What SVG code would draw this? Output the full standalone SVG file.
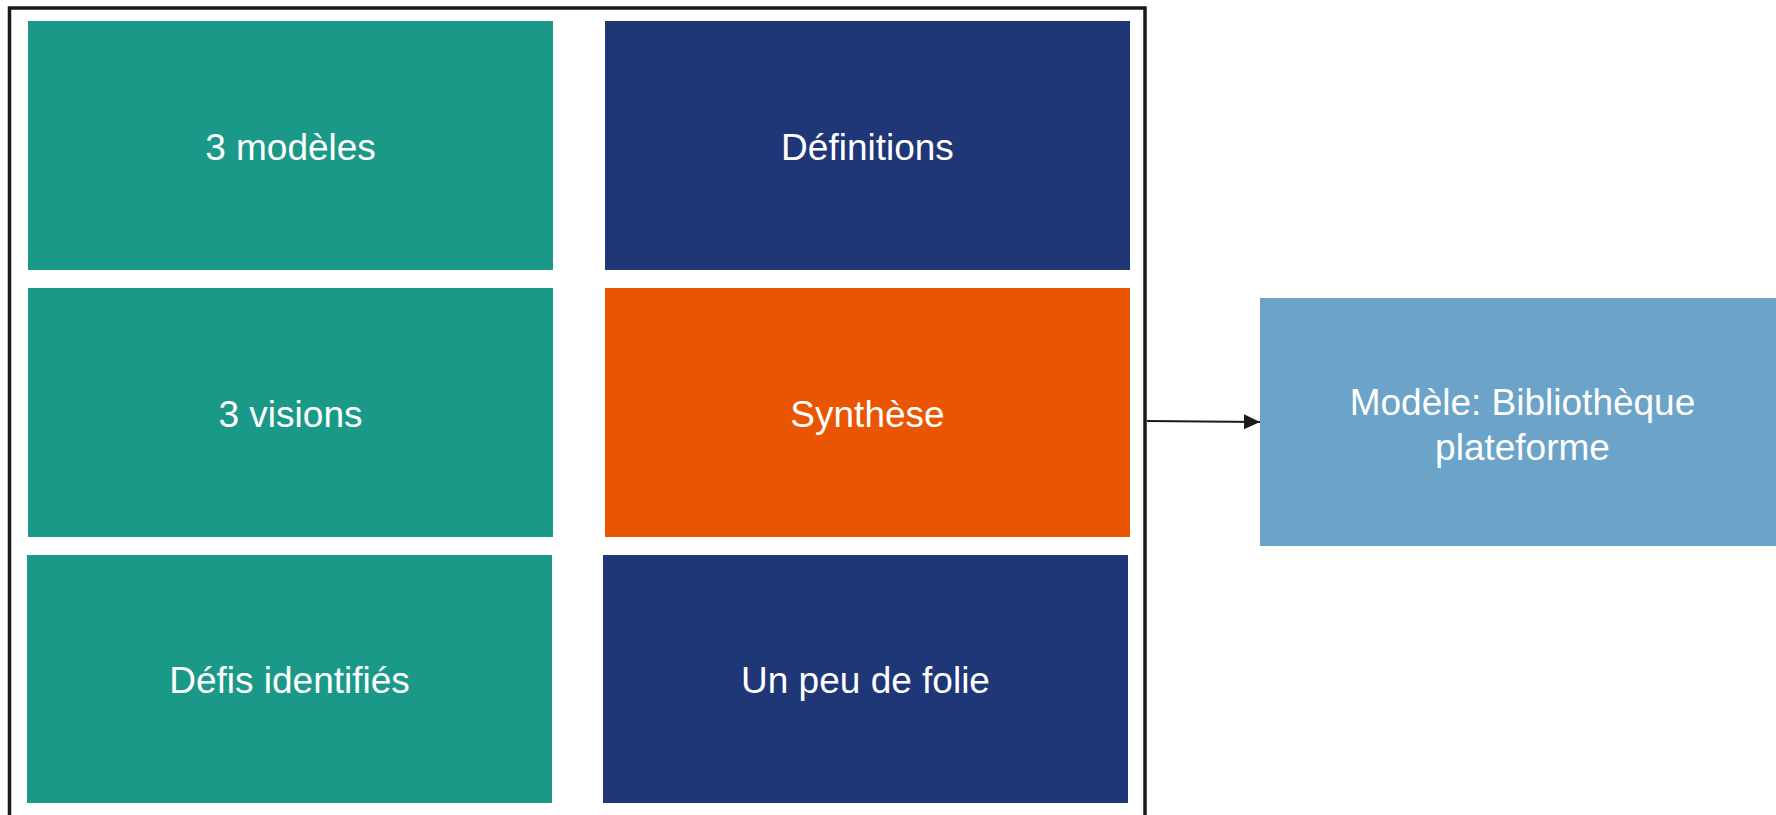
<svg xmlns="http://www.w3.org/2000/svg" width="1776" height="815" viewBox="0 0 1776 815">
<style>
.teal{fill:#1b9988}
.navy{fill:#1f3677}
.orange{fill:#ea5501}
.light{fill:#6ba4c8}
.lbl{font-family:"Liberation Sans",Arial,sans-serif;font-size:37px;fill:#ffffff;text-anchor:middle}
.conn{stroke:#1a1a1a;stroke-width:2;fill:none}
</style>
<defs>
<marker id="arrow" markerUnits="userSpaceOnUse" markerWidth="16" markerHeight="16" viewBox="0 0 16 16" refX="16" refY="8" orient="auto">
<polygon points="0,0.5 16,8 0,15.5" fill="#1a1a1a"/>
</marker>
</defs>
<rect width="1776" height="815" fill="#ffffff"/>
<g id="container">
<rect x="9.5" y="8" width="1135.5" height="880" fill="none" stroke="#1a1a1a" stroke-width="3.5"/>
</g>
<g id="n1"><rect class="teal" x="28" y="21" width="525" height="249"/><text class="lbl" x="290.5" y="159.5">3 modèles</text></g>
<g id="n2"><rect class="navy" x="605" y="21" width="525" height="249"/><text class="lbl" x="867.5" y="159.5">Définitions</text></g>
<g id="n3"><rect class="teal" x="28" y="288" width="525" height="249"/><text class="lbl" x="290.5" y="426.5">3 visions</text></g>
<g id="n4"><rect class="orange" x="605" y="288" width="525" height="249"/><text class="lbl" x="867.5" y="426.5">Synthèse</text></g>
<g id="n5"><rect class="teal" x="27" y="555" width="525" height="248"/><text class="lbl" x="289.5" y="693">Défis identifiés</text></g>
<g id="n6"><rect class="navy" x="603" y="555" width="525" height="248"/><text class="lbl" x="865.5" y="693">Un peu de folie</text></g>
<g id="n7"><rect class="light" x="1260" y="298" width="525" height="248"/><text class="lbl" x="1522.5" y="415">Modèle: Bibliothèque</text><text class="lbl" x="1522.5" y="460">plateforme</text></g>
<g id="connectors">
<line class="conn" x1="1147" y1="421" x2="1260" y2="422" marker-end="url(#arrow)"/>
</g>
</svg>
